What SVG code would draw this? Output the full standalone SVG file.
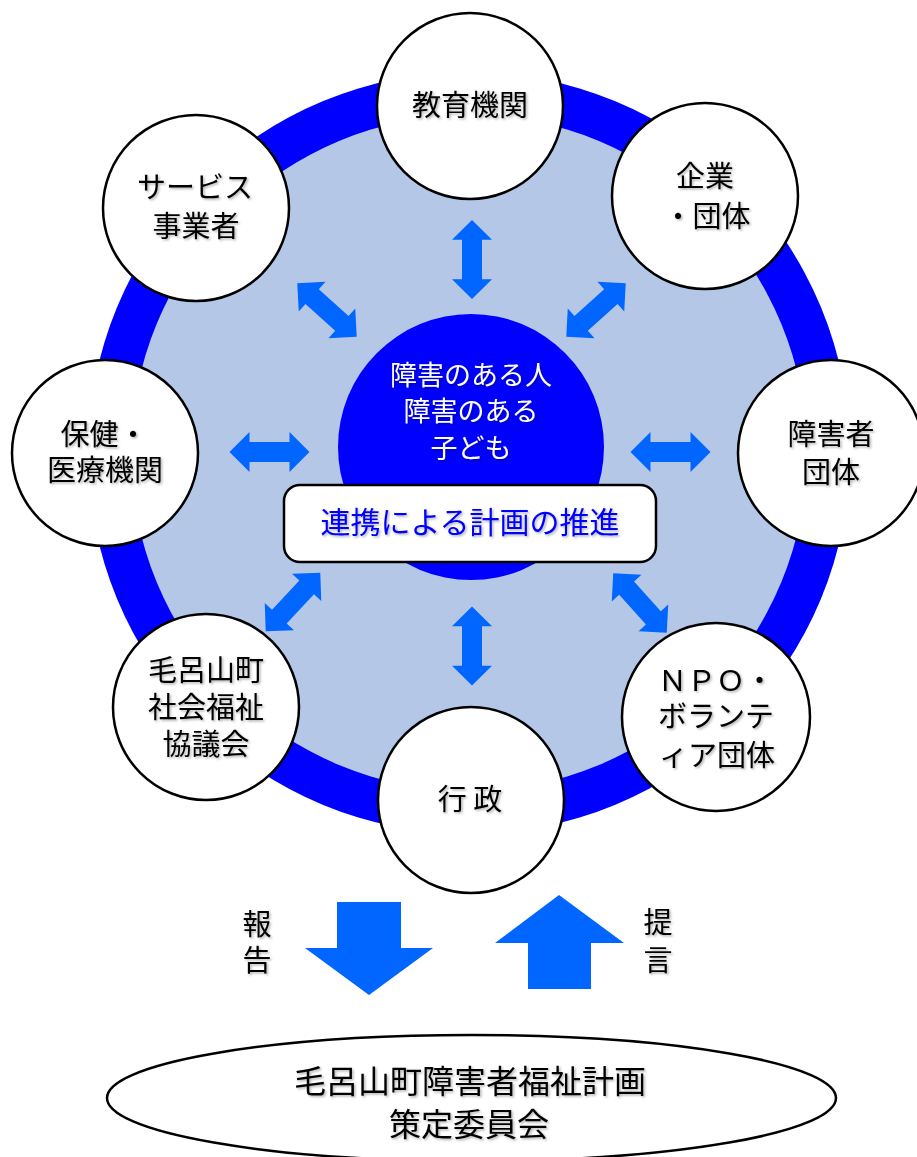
<svg xmlns="http://www.w3.org/2000/svg" xmlns:xlink="http://www.w3.org/1999/xlink" width="917" height="1157" viewBox="0 0 917 1157">
<style>
text{font-family:"Noto Sans CJK JP","Noto Sans CJK SC",sans-serif;text-anchor:middle}
.sat{fill:#fff;stroke:#000;stroke-width:2.5}
.lbl{font-size:29px;fill:#000;filter:url(#sh)}
.ctr{font-size:27px;fill:#fff;filter:url(#sh)}
.arr{fill:#0066FF}
</style>
<defs>
<filter id="sh" x="-10%" y="-20%" width="130%" height="150%">
<feDropShadow dx="1.5" dy="1.5" stdDeviation="1" flood-color="#000" flood-opacity="0.3"/>
</filter>
<polygon id="dbl" points="-40,0 -20,-20 -20,-10 20,-10 20,-20 40,0 20,20 20,10 -20,10 -20,20"/>
</defs>
<rect width="917" height="1157" fill="#fff"/>
<g id="ring">
<circle cx="469" cy="453" r="381" fill="#0000FF"/>
<circle cx="469" cy="453" r="338" fill="#B4C7E7"/>
</g>
<g id="center">
<circle cx="471" cy="447" r="133" fill="#0000FF"/>
<text class="ctr" x="471" y="385">障害のある人</text>
<text class="ctr" x="471" y="421">障害のある</text>
<text class="ctr" x="471" y="458">子ども</text>
</g>
<g id="connectors" class="arr">
<use xlink:href="#dbl" transform="translate(472,259.5) rotate(90) scale(0.99,1)"/>
<use xlink:href="#dbl" transform="translate(472,646) rotate(90) scale(0.99,1)"/>
<use xlink:href="#dbl" transform="translate(269.5,452)"/>
<use xlink:href="#dbl" transform="translate(670.5,452)"/>
<use xlink:href="#dbl" transform="translate(327,310) rotate(42)"/>
<use xlink:href="#dbl" transform="translate(596,310) rotate(-42)"/>
<use xlink:href="#dbl" transform="translate(293,602) rotate(-47)"/>
<use xlink:href="#dbl" transform="translate(640,603) rotate(48)"/>
<polygon points="337,902 401,902 401,948 433,948 369,995 305,948 337,948"/>
<polygon points="559,895 624,943 591,943 591,989 528,989 528,943 495,943"/>
</g>
<g id="plan">
<rect x="284" y="485" width="372" height="77" rx="16" fill="#fff" stroke="#000" stroke-width="2.5"/>
<text x="470" y="533" style="font-size:30px;fill:#0000FF;filter:url(#sh)">連携による計画の推進</text>
</g>
<g id="kyoiku">
<circle class="sat" cx="470" cy="106" r="93"/>
<text class="lbl" x="470" y="116">教育機関</text>
</g>
<g id="kigyo">
<circle class="sat" cx="705" cy="196" r="93"/>
<text class="lbl" x="705" y="187">企業</text>
<text class="lbl" x="707" y="227">・団体</text>
</g>
<g id="service">
<circle class="sat" cx="196" cy="208" r="93"/>
<text class="lbl" x="195" y="198">サービス</text>
<text class="lbl" x="196" y="237">事業者</text>
</g>
<g id="hoken">
<circle class="sat" cx="105" cy="453" r="93"/>
<text class="lbl" x="104" y="445">保健・</text>
<text class="lbl" x="105" y="481">医療機関</text>
</g>
<g id="shogaisha">
<circle class="sat" cx="831" cy="453" r="93"/>
<text class="lbl" x="831" y="445">障害者</text>
<text class="lbl" x="831" y="483">団体</text>
</g>
<g id="shakyo">
<circle class="sat" cx="206" cy="707" r="93"/>
<text class="lbl" x="206" y="681">毛呂山町</text>
<text class="lbl" x="206" y="718">社会福祉</text>
<text class="lbl" x="206" y="755">協議会</text>
</g>
<g id="npo">
<circle class="sat" cx="716" cy="717" r="94"/>
<text class="lbl" x="716" y="691">ＮＰＯ・</text>
<text class="lbl" x="716" y="727">ボランテ</text>
<text class="lbl" x="717" y="766">ィア団体</text>
</g>
<g id="gyosei">
<circle class="sat" cx="471" cy="800" r="93"/>
<text class="lbl" x="470" y="810" xml:space="preserve">行 政</text>
</g>
<g id="labels">
<text class="lbl" x="257" y="935">報</text>
<text class="lbl" x="257" y="971">告</text>
<text class="lbl" x="658" y="933">提</text>
<text class="lbl" x="658" y="971">言</text>
</g>
<g id="committee">
<ellipse cx="471.5" cy="1098" rx="364.5" ry="63" fill="#fff" stroke="#000" stroke-width="2.5"/>
<text x="470" y="1093" style="font-size:32px;fill:#000;filter:url(#sh)">毛呂山町障害者福祉計画</text>
<text x="469" y="1136" style="font-size:32px;fill:#000;filter:url(#sh)">策定委員会</text>
</g>
</svg>
